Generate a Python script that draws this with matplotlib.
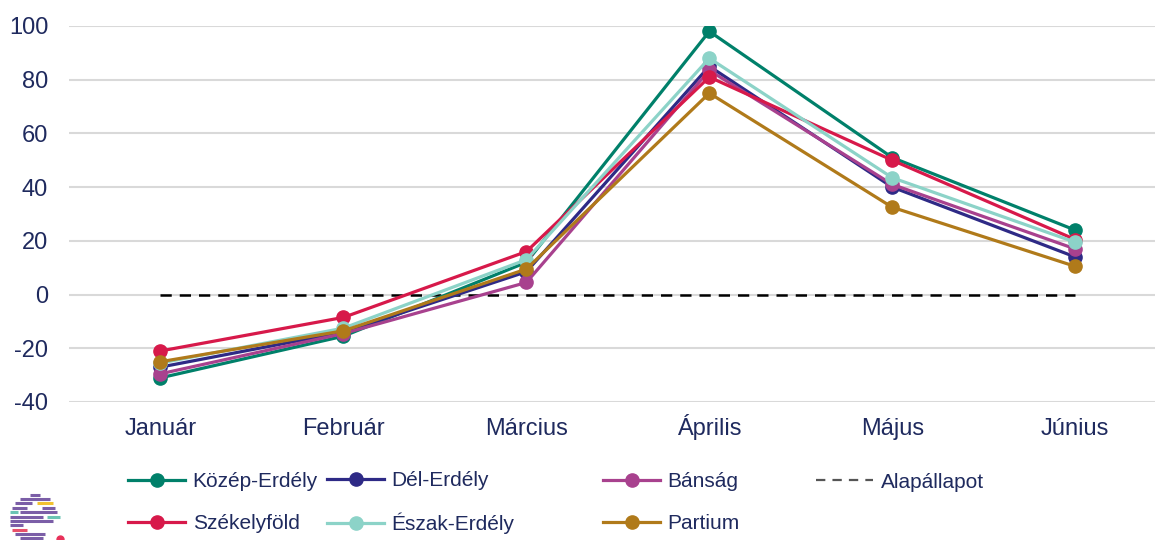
import matplotlib
matplotlib.use("Agg")
import matplotlib.pyplot as plt
from matplotlib.lines import Line2D

plt.rcParams['font.family'] = ['Liberation Sans', 'DejaVu Sans']
plt.rcParams['axes.unicode_minus'] = False

months = ["Január", "Február", "Március", "Április", "Május", "Június"]
kozep_erdely = [-31, -15.5, 12, 98, 51, 24]
del_erdely = [-27, -14, 8.5, 85, 40, 14]
bansag = [-29.5, -14.5, 4.5, 83.5, 41, 17]
szekelyfold = [-21, -8.5, 16, 81, 50, 20.5]
eszak_erdely = [-25.5, -12.5, 13, 88, 43.5, 19.5]
partium = [-25, -13.5, 9.5, 75, 32.5, 10.5]
alapallapot = [0, 0, 0, 0, 0, 0]

series = [
    ("Közép-Erdély", kozep_erdely, "#00806A"),
    ("Dél-Erdély", del_erdely, "#2E2A86"),
    ("Bánság", bansag, "#A8418E"),
    ("Székelyföld", szekelyfold, "#D7194A"),
    ("Észak-Erdély", eszak_erdely, "#8CD3C8"),
    ("Partium", partium, "#B07A1A"),
]

text_color = "#1F2A5E"
W, H = 1155, 540
fig = plt.figure(figsize=(W / 100, H / 100), dpi=100)
ax = fig.add_axes([69 / W, 1 - 402 / H, 1 - 69 / W, (402 - 26) / H])

x = list(range(len(months)))
ax.plot(x, alapallapot, color="black", lw=1.8, linestyle=(0, (4.5, 3.2)), zorder=2)
handles = {}
for name, vals, col in series:
    ln, = ax.plot(x, vals, color=col, lw=2.3, marker="o", markersize=9.5, zorder=3)
    handles[name] = ln

ax.set_ylim(-40, 100)
ax.set_yticks(range(-40, 101, 20))
ax.set_xlim(-0.5, 5.436)
ax.set_xticks(x)
ax.set_xticklabels(months)
ax.grid(axis="y", color="#D9D9D9", lw=1.5)
ax.set_axisbelow(True)
for s in ax.spines.values():
    s.set_visible(False)
ax.tick_params(axis="both", length=0, labelsize=17, colors=text_color)
ax.tick_params(axis="x", pad=24)
ax.tick_params(axis="y", pad=15)
for lab in ax.get_xticklabels():
    lab.set_va("baseline")

dash_handle = Line2D([], [], color="#555555", lw=1.6, linestyle=(0, (4.2, 3.2)))

def col_legend(hs, labels, xpx, ypx):
    lg = fig.legend(hs, labels, loc="center left", bbox_to_anchor=(xpx / W, 1 - ypx / H),
                    frameon=False, fontsize=15, handlelength=2.75, handletextpad=0.35,
                    borderpad=0, borderaxespad=0, labelspacing=1.1, labelcolor=text_color)
    return lg

col_legend([handles["Közép-Erdély"], handles["Székelyföld"]], ["Közép-Erdély", "Székelyföld"], 128, 502.5)
col_legend([handles["Dél-Erdély"], handles["Észak-Erdély"]], ["Dél-Erdély", "Észak-Erdély"], 327, 502.5)
col_legend([handles["Bánság"], handles["Partium"]], ["Bánság", "Partium"], 603, 502.5)
col_legend([dash_handle], ["Alapállapot"], 816, 482)

# small decorative logo (bottom-left)
lax = fig.add_axes([0, 0, 70 / W, 55 / H])
lax.set_xlim(0, 70)
lax.set_ylim(55, 0)
lax.axis("off")
purple = "#7B5EA7"
bars = [
    (10, 30, 40, purple), (14, 20, 50, purple), (18, 15, 32, purple), (18, 37, 53, "#F2C230"),
    (23, 12, 27, purple), (23, 42, 55, purple), (27, 10, 18, "#6CC4B4"), (27, 20, 57, purple),
    (32, 10, 43, purple), (32, 47, 60, "#6CC4B4"), (36, 10, 53, purple), (40, 10, 23, purple),
    (45, 12, 27, "#E8506A"), (49, 15, 45, purple), (53, 20, 43, purple),
]
for yy, x0, x1, c in bars:
    lax.plot([x0, x1], [yy, yy], color=c, lw=2.2, solid_capstyle="butt")
lax.plot([60], [54], "o", color="#E8315A", markersize=5)

fig.savefig("out.png", dpi=100)
